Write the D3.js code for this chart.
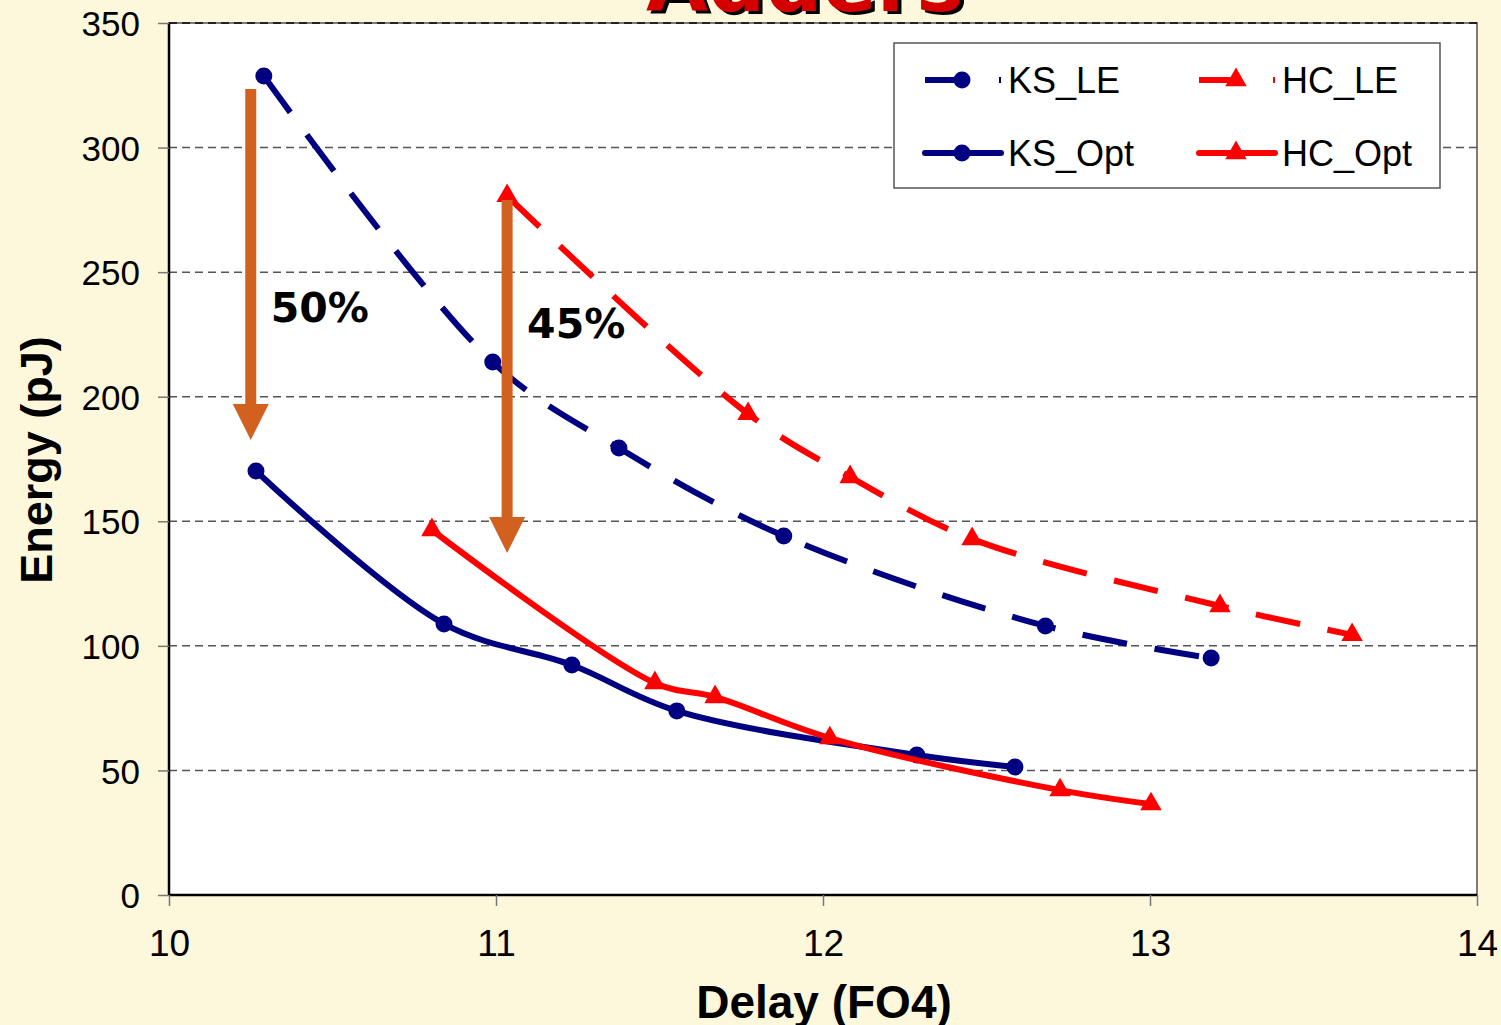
<!DOCTYPE html>
<html>
<head>
<meta charset="utf-8">
<script src="https://cdn.jsdelivr.net/npm/d3@7"></script>
<style>
  html, body { margin: 0; padding: 0; background: #fdf8dc; }
  svg { display: block; }
</style>
</head>
<body>
<svg id="chart" width="1501" height="1025"></svg>
<script>
// Energy vs delay for Kogge-Stone (KS) and Han-Carlson (HC) adders
const ksLE  = [[10.29, 328.7], [10.99, 213.9], [11.376, 179.4], [11.88, 144.1], [12.68, 108.0], [13.187, 95.1]];
const ksOpt = [[10.266, 170.2], [10.841, 108.8], [11.232, 92.3], [11.553, 73.9], [12.287, 56.2], [12.587, 51.4]];
const hcLE  = [[11.034, 280.6], [11.771, 193.1], [12.083, 167.8], [12.456, 142.9], [13.214, 116.0], [13.618, 104.4]];
const hcOpt = [[10.804, 146.5], [11.486, 85.1], [11.67, 79.5], [12.021, 63.0], [12.725, 42.1], [13.003, 36.5]];

const xTicks = [10, 11, 12, 13, 14];
const yTicks = [0, 50, 100, 150, 200, 250, 300, 350];

// Savings arrows: x, from energy, to energy, label
const savings = [
  { x: 10.25, from: 323.5, to: 182.6, label: "50%" },
  { x: 11.034, from: 279, to: 137.3, label: "45%" }
];

const series = [
  { name: "KS_LE",  data: ksLE,  color: "#000080", dashed: true,  marker: "circle" },
  { name: "KS_Opt", data: ksOpt, color: "#000080", dashed: false, marker: "circle" },
  { name: "HC_LE",  data: hcLE,  color: "#ff0000", dashed: true,  marker: "triangle" },
  { name: "HC_Opt", data: hcOpt, color: "#ff0000", dashed: false, marker: "triangle" }
];

const svg = d3.select("#chart");
const plot = { left: 169, right: 1477, top: 23, bottom: 895 };

const x = d3.scaleLinear().domain([10, 14]).range([plot.left, plot.right]);
const y = d3.scaleLinear().domain([0, 350]).range([plot.bottom, plot.top]);

// Title (runs off the top edge)
const title = svg.append("g").attr("font-family", "DejaVu Sans, sans-serif")
  .attr("font-weight", "bold").attr("font-size", 80).attr("text-anchor", "middle");
title.append("text").attr("x", 809).attr("y", 14).attr("fill", "#000").text("Adders");
title.append("text").attr("x", 805).attr("y", 11).attr("fill", "#d40000").text("Adders");

// Plot area
svg.append("rect")
  .attr("x", plot.left).attr("y", plot.top)
  .attr("width", plot.right - plot.left).attr("height", plot.bottom - plot.top)
  .attr("fill", "#ffffff").attr("stroke", "#7a7a7a").attr("stroke-width", 2);

// Horizontal gridlines
svg.append("g").selectAll("line").data(yTicks.filter(d => d > 0)).join("line")
  .attr("x1", plot.left).attr("x2", plot.right)
  .attr("y1", d => y(d)).attr("y2", d => y(d))
  .attr("stroke", d => d === 350 ? "#222" : "#555").attr("stroke-width", d => d === 350 ? 2 : 1.5)
  .attr("stroke-dasharray", "8,5");

// Axes
const yAxis = svg.append("g").attr("transform", `translate(${plot.left},0)`)
  .call(d3.axisLeft(y).tickValues(yTicks).tickSize(11).tickPadding(18));
const xAxis = svg.append("g").attr("transform", `translate(0,${plot.bottom})`)
  .call(d3.axisBottom(x).tickValues(xTicks).tickSize(11).tickPadding(24).tickFormat(d3.format("d")));

[yAxis, xAxis].forEach(a => {
  a.attr("font-family", "Liberation Sans, Arial, sans-serif");
  a.select(".domain").attr("stroke", "#000").attr("stroke-width", 2.5);
  a.selectAll(".tick line").attr("stroke", "#777").attr("stroke-width", 1.5);
  a.selectAll(".tick text").attr("fill", "#000");
});
yAxis.attr("font-size", 35);
yAxis.selectAll(".tick text").attr("dy", "0.36em");
xAxis.attr("font-size", 37);
yAxis.select(".domain").attr("d", `M0,${plot.top}V${plot.bottom}`);
xAxis.select(".domain").attr("d", `M${plot.left},0H${plot.right}`);

// Axis titles
svg.append("text")
  .attr("x", 824).attr("y", 1018).attr("text-anchor", "middle")
  .attr("font-family", "Liberation Sans, Arial, sans-serif").attr("font-weight", "bold")
  .attr("font-size", 46).attr("fill", "#000").text("Delay (FO4)");
svg.append("text")
  .attr("transform", "translate(52,460) rotate(-90)").attr("text-anchor", "middle")
  .attr("font-family", "Liberation Sans, Arial, sans-serif").attr("font-weight", "bold")
  .attr("font-size", 45).attr("fill", "#000").text("Energy (pJ)");

// Series lines and markers
const line = d3.line().x(d => x(d[0])).y(d => y(d[1])).curve(d3.curveCatmullRom.alpha(0.5));
const tri = d3.symbol().type(d3.symbolTriangle).size(200);

function drawMarker(g, type, color, cx, cy) {
  if (type === "circle") {
    g.append("circle").attr("cx", cx).attr("cy", cy).attr("r", 8.5).attr("fill", color);
  } else {
    g.append("path").attr("d", tri()).attr("transform", `translate(${cx},${cy})`).attr("fill", color);
  }
}

series.forEach(s => {
  const g = svg.append("g");
  g.append("path").datum(s.data).attr("d", line)
    .attr("fill", "none").attr("stroke", s.color).attr("stroke-width", 6)
    .attr("stroke-linejoin", "round")
    .attr("stroke-linecap", s.dashed ? "butt" : "round")
    .attr("stroke-dasharray", s.dashed ? "45,28" : null);
  s.data.forEach(d => drawMarker(g, s.marker, s.color, x(d[0]), y(d[1])));
});

// Savings arrows with percentage labels
const arrowColor = "#d2601e";
savings.forEach(a => {
  const ax = x(a.x), y0 = y(a.from), y1 = y(a.to);
  const headH = 36, headW = 18, shaftW = 5.5;
  svg.append("path")
    .attr("d", `M${ax - shaftW},${y0} L${ax + shaftW},${y0} L${ax + shaftW},${y1 - headH}
                L${ax + headW},${y1 - headH} L${ax},${y1} L${ax - headW},${y1 - headH}
                L${ax - shaftW},${y1 - headH} Z`)
    .attr("fill", arrowColor);
  svg.append("text")
    .attr("x", ax + 20).attr("y", a.label === "50%" ? 322 : 338)
    .attr("font-family", "DejaVu Sans, sans-serif").attr("font-weight", "bold")
    .attr("font-size", 41).attr("fill", "#000").text(a.label);
});

// Legend
const lg = svg.append("g");
lg.append("rect").attr("x", 894).attr("y", 43).attr("width", 546).attr("height", 145)
  .attr("fill", "#fff").attr("stroke", "#555").attr("stroke-width", 1.5);
const legendPos = [
  { x: 925, y: 80 }, { x: 925, y: 153 }, { x: 1199, y: 80 }, { x: 1199, y: 153 }
];
series.forEach((s, i) => {
  const p = legendPos[i];
  lg.append("line").attr("x1", p.x).attr("x2", p.x + 76).attr("y1", p.y).attr("y2", p.y)
    .attr("stroke", s.color).attr("stroke-width", 6)
    .attr("stroke-linecap", s.dashed ? "butt" : "round")
    .attr("stroke-dasharray", s.dashed ? "37,37,2" : null);
  drawMarker(lg, s.marker, s.color, p.x + 37, p.y);
  lg.append("text").attr("x", p.x + 83).attr("y", p.y + 13)
    .attr("font-family", "Liberation Sans, Arial, sans-serif").attr("font-size", 36)
    .attr("fill", "#000").text(s.name);
});
</script>
</body>
</html>
